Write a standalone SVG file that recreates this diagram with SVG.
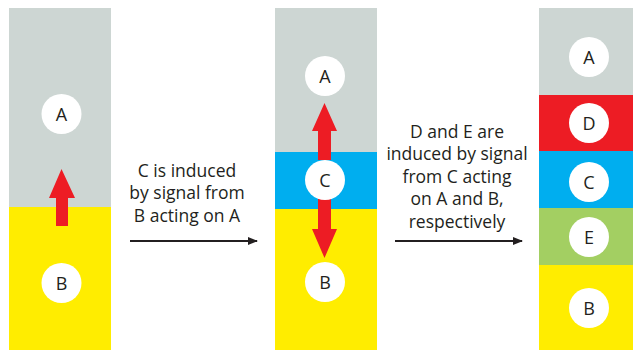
<svg xmlns="http://www.w3.org/2000/svg" width="633" height="351" viewBox="0 0 633 351">
<defs>
<style>
.gray{fill:#cdd6d3}.yel{fill:#ffed00}.blue{fill:#00aeef}.red{fill:#ed1c24}.green{fill:#a3cf62}
.cell{fill:#ffffff}
.lbl{font-family:"Open Sans","Liberation Sans",sans-serif;font-size:18px;fill:#231f20;text-anchor:middle}
.cap{font-family:"Open Sans","Liberation Sans",sans-serif;font-size:17.5px;fill:#231f20;text-anchor:middle}
.sig{fill:#ed1c24}
.conn{stroke:#231f20;stroke-width:2;fill:none}
</style>
<marker id="ah" markerWidth="10" markerHeight="8" refX="9" refY="4" orient="auto" markerUnits="userSpaceOnUse">
<path d="M0,0 L10,4 L0,8 z" fill="#231f20"/>
</marker>
</defs>
<rect width="633" height="351" fill="#ffffff"/>

<g id="stage1">
<rect class="gray" x="9" y="8" width="102" height="199"/>
<rect class="yel" x="9" y="207" width="102" height="143"/>
<path class="sig" d="M61.5,169 L75,198 L68,198 L68,226 L56,226 L56,198 L49,198 z"/>
<g id="s1-A"><circle class="cell" cx="61.5" cy="114" r="20"/><text class="lbl" x="61.5" y="120.5">A</text></g>
<g id="s1-B"><circle class="cell" cx="61.5" cy="283" r="20"/><text class="lbl" x="61.5" y="289.5">B</text></g>
</g>

<g id="stage2">
<rect class="gray" x="275" y="8" width="102" height="144"/>
<rect class="blue" x="275" y="152" width="102" height="57"/>
<rect class="yel" x="275" y="209" width="102" height="141"/>
<path class="sig" d="M324.5,103 L337,131 L331,131 L331,160 L318,160 L318,131 L312,131 z"/>
<path class="sig" d="M318,198 L331,198 L331,229 L337,229 L324.5,258 L312,229 L318,229 z"/>
<g id="s2-A"><circle class="cell" cx="325" cy="76" r="20"/><text class="lbl" x="325" y="82.5">A</text></g>
<g id="s2-C"><circle class="cell" cx="325" cy="180" r="20"/><text class="lbl" x="325" y="186.5">C</text></g>
<g id="s2-B"><circle class="cell" cx="325" cy="282" r="20"/><text class="lbl" x="325" y="288.5">B</text></g>
</g>

<g id="stage3">
<rect class="gray" x="539" y="8" width="94" height="87"/>
<rect class="red" x="539" y="95" width="94" height="56"/>
<rect class="blue" x="539" y="151" width="94" height="57"/>
<rect class="green" x="539" y="208" width="94" height="57"/>
<rect class="yel" x="539" y="265" width="94" height="85"/>
<g id="s3-A"><circle class="cell" cx="589" cy="57" r="20"/><text class="lbl" x="589" y="63.5">A</text></g>
<g id="s3-D"><circle class="cell" cx="589" cy="123" r="20"/><text class="lbl" x="589" y="129.5">D</text></g>
<g id="s3-C"><circle class="cell" cx="589" cy="182" r="20"/><text class="lbl" x="589" y="188.5">C</text></g>
<g id="s3-E"><circle class="cell" cx="589" cy="237" r="20"/><text class="lbl" x="589" y="243.5">E</text></g>
<g id="s3-B"><circle class="cell" cx="589" cy="308" r="20"/><text class="lbl" x="589" y="314.5">B</text></g>
</g>

<g id="connectors">
<line class="conn" x1="130" y1="241" x2="257" y2="241" marker-end="url(#ah)"/>
<line class="conn" x1="395" y1="241" x2="522" y2="241" marker-end="url(#ah)"/>
</g>

<g id="caption1">
<text class="cap" x="187" y="176.5">C is induced</text>
<text class="cap" x="187" y="199">by signal from</text>
<text class="cap" x="187" y="221.5">B acting on A</text>
</g>
<g id="caption2">
<text class="cap" x="457" y="137.5">D and E are</text>
<text class="cap" x="457" y="160">induced by signal</text>
<text class="cap" x="457" y="182.5">from C acting</text>
<text class="cap" x="457" y="205">on A and B,</text>
<text class="cap" x="457" y="227.5">respectively</text>
</g>
</svg>
